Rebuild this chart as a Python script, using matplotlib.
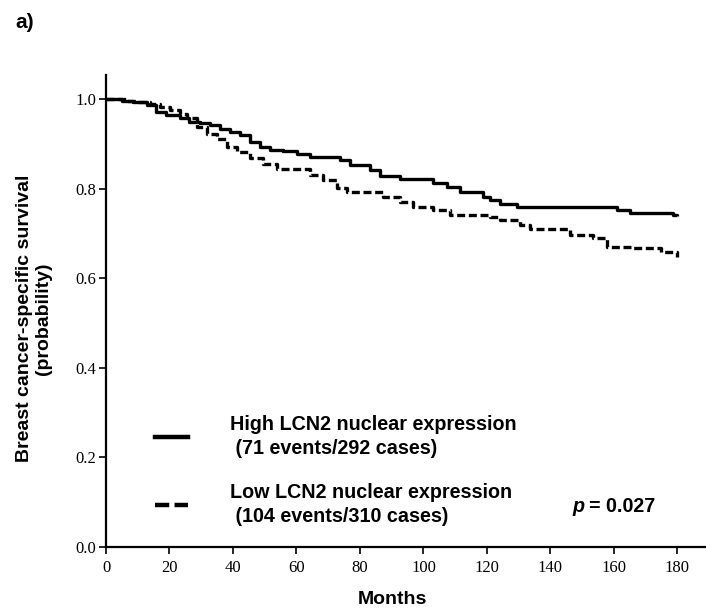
import numpy as np
import matplotlib.pyplot as plt
from matplotlib.lines import Line2D

# 생존곡선 값
high_months = [0, 4.9, 8.6, 12.8, 15.9, 19.0, 23.3, 26.3, 29.6, 32.8, 35.9, 39.1, 42.2,
               45.4, 48.5, 51.7, 55.8, 60.1, 64.3, 73.8, 76.9, 83.2, 86.4, 92.7, 103.1,
               107.4, 111.6, 118.9, 121.0, 124.2, 129.5, 161.0, 165.2, 178.5, 180.0]
high_surv = [1.0, 0.997, 0.994, 0.987, 0.972, 0.964, 0.957, 0.949, 0.946, 0.942, 0.934, 0.927, 0.920,
             0.905, 0.893, 0.886, 0.884, 0.877, 0.871, 0.865, 0.853, 0.841, 0.828, 0.821, 0.812,
             0.804, 0.793, 0.782, 0.774, 0.767, 0.759, 0.752, 0.746, 0.741, 0.740]

low_months = [0, 6.5, 9.7, 13.9, 17.0, 20.2, 23.3, 25.4, 28.6, 31.8, 34.9, 38.1, 41.2,
              45.4, 49.6, 53.8, 59.0, 64.3, 68.5, 72.7, 75.9, 87.3, 92.7, 96.8, 103.1,
              108.4, 121.0, 124.2, 130.5, 133.7, 146.3, 153.5, 157.8, 166.1, 174.7, 180.0]
low_surv = [1.0, 0.997, 0.994, 0.990, 0.983, 0.975, 0.968, 0.957, 0.938, 0.923, 0.912, 0.893, 0.882,
            0.868, 0.856, 0.845, 0.843, 0.830, 0.819, 0.801, 0.793, 0.782, 0.771, 0.759, 0.752,
            0.741, 0.737, 0.730, 0.719, 0.711, 0.696, 0.689, 0.670, 0.667, 0.659, 0.648]

x_ticks = [0, 20, 40, 60, 80, 100, 120, 140, 160, 180]
y_ticks = [0.0, 0.2, 0.4, 0.6, 0.8, 1.0]

high_label = 'High LCN2 nuclear expression\n (71 events/292 cases)'
low_label = 'Low LCN2 nuclear expression\n (104 events/310 cases)'

sans = 'Liberation Sans'
serif = 'Liberation Serif'

fig = plt.figure(figsize=(7.06, 6.16), dpi=100)
ax = fig.add_axes([106/706, 1-547/616, 600/706, 472/616])

# 곡선
ax.step(high_months, high_surv, where='post', color='black', lw=2.4, solid_capstyle='butt')
ax.step(low_months, low_surv, where='post', color='black', lw=2.4, dashes=(2.4, 1.1))

ax.set_xlim(0, 189)
ax.set_ylim(0, 1.054)
ax.set_xticks(x_ticks)
ax.set_yticks(y_ticks)
ax.set_yticklabels(['%.1f' % v for v in y_ticks])
for lab in ax.get_xticklabels() + ax.get_yticklabels():
    lab.set_fontfamily(serif)
    lab.set_fontsize(12)
ax.tick_params(direction='out', length=5, width=1.2, pad=2)
ax.tick_params(axis='x', pad=4)

for s in ['top', 'right']:
    ax.spines[s].set_visible(False)
for s in ['left', 'bottom']:
    ax.spines[s].set_linewidth(1.6)

ax.set_xlabel('Months', fontfamily=sans, fontweight='bold', fontsize=14, va='center')
ax.xaxis.set_label_coords(0.477, -0.112)

fig.text(34/706, 0.483, 'Breast cancer-specific survival\n(probability)', rotation=90,
         ha='center', va='center', multialignment='center',
         fontfamily=sans, fontweight='bold', fontsize=14)

# 범례
handles = [Line2D([], [], color='black', lw=3.2),
           Line2D([], [], color='black', lw=3.2, dashes=(3.2, 1.2))]
leg = ax.legend(handles, [high_label, low_label], loc='upper left',
                bbox_to_anchor=(155/706, 1-415/616), bbox_transform=fig.transFigure,
                frameon=False, borderpad=0, borderaxespad=0,
                handlelength=1.65, handletextpad=2.15, labelspacing=1.3,
                prop={'family': sans, 'weight': 'bold', 'size': 14.2})
for t in leg.get_texts():
    t.set_linespacing(1.3)

fig.text(572/706, 1-507/616, 'p', fontfamily=sans, fontweight='bold', style='italic',
         fontsize=14.2, ha='left', va='center')
fig.text(589/706, 1-507/616, '= 0.027', fontfamily=sans, fontweight='bold',
         fontsize=14.2, ha='left', va='center')

fig.text(15/706, 1-22/616, 'a)', fontfamily=sans, fontweight='bold', fontsize=15,
         ha='left', va='center')

plt.savefig('out.png', dpi=100)
print('finished')
